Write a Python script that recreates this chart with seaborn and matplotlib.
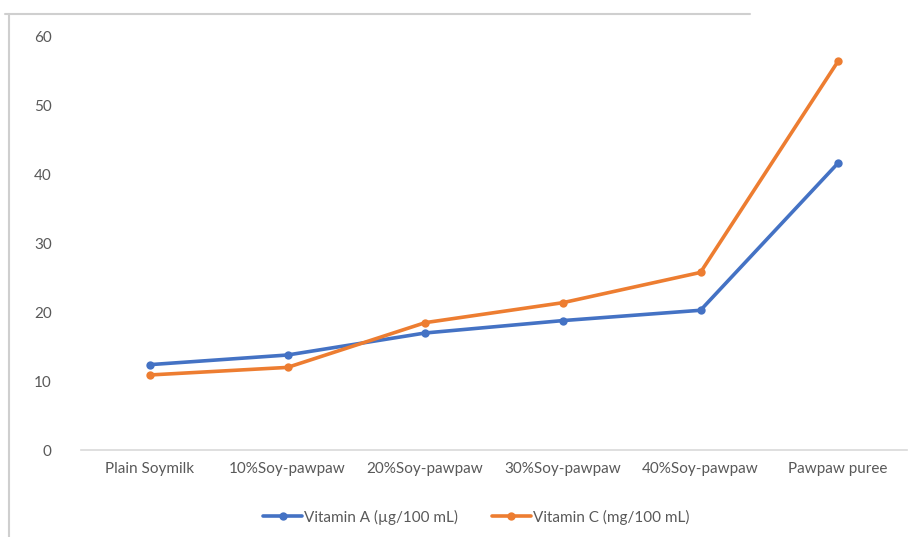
import matplotlib
matplotlib.use("Agg")
import matplotlib.pyplot as plt
from matplotlib.lines import Line2D
import seaborn as sns
import pandas as pd

categories = ["Plain Soymilk", "10%Soy-pawpaw", "20%Soy-pawpaw",
              "30%Soy-pawpaw", "40%Soy-pawpaw", "Pawpaw puree"]
vitamin_a = [12.4, 13.8, 17.0, 18.8, 20.3, 41.7]
vitamin_c = [10.9, 12.0, 18.5, 21.4, 25.8, 56.5]
series_names = ["Vitamin A (µg/100 mL)", "Vitamin C (mg/100 mL)"]
y_ticks = [0, 10, 20, 30, 40, 50, 60]

sns.set_theme(style="white")
plt.rcParams["font.family"] = ["Lato", "DejaVu Sans"]

df = pd.DataFrame({
    "Sample": categories * 2,
    "Value": vitamin_a + vitamin_c,
    "Series": [series_names[0]] * len(categories) + [series_names[1]] * len(categories),
})
df["pos"] = list(range(len(categories))) * 2

fig = plt.figure(figsize=(9.18, 5.37), dpi=100)
ax = fig.add_axes([81 / 918, 1 - 450 / 537, (907 - 81) / 918, (450 - 37) / 537])

palette = {series_names[0]: "#4472C4", series_names[1]: "#ED7D31"}
sns.lineplot(data=df, x="pos", y="Value", hue="Series", palette=palette,
             marker="o", markersize=6, markeredgewidth=0, linewidth=2.6,
             ax=ax, legend=False)

ax.set_xlim(-0.5, len(categories) - 0.5)
ax.set_ylim(0, 60)
ax.set_yticks(y_ticks)
ax.set_xticks(range(len(categories)))
ax.set_xticklabels(categories)
ax.set_xlabel("")
ax.set_ylabel("")
ax.tick_params(axis="both", length=0, labelsize=11, labelcolor="#595959")
ax.tick_params(axis="y", pad=21)
ax.tick_params(axis="x", pad=9)
for side in ("top", "right", "left"):
    ax.spines[side].set_visible(False)
ax.spines["bottom"].set_color("#D9D9D9")
ax.spines["bottom"].set_linewidth(1.2)

handles = [Line2D([0], [0], color=palette[n], marker="o", markersize=6,
                  markeredgewidth=0, linewidth=2.6) for n in series_names]
fig.legend(handles, series_names, loc="center", bbox_to_anchor=(476 / 918, 1 - 517 / 537),
           ncol=2, frameon=False, fontsize=11, labelcolor="#595959",
           handlelength=2.6, handletextpad=0.1, columnspacing=2.2)

# chart frame edges
fig.add_artist(Line2D([5 / 918, 750 / 918], [1 - 14 / 537, 1 - 14 / 537],
                      transform=fig.transFigure, color="#CFCFCF", linewidth=1.5))
fig.add_artist(Line2D([8.5 / 918, 8.5 / 918], [1 - 14 / 537, 0],
                      transform=fig.transFigure, color="#CFCFCF", linewidth=1.5))

fig.savefig("out.png", dpi=100)
